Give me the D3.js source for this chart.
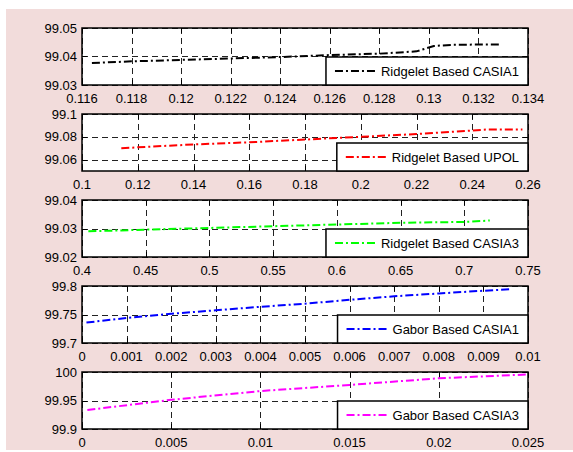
<!DOCTYPE html>
<html>
<head>
<meta charset="utf-8">
<script src="https://cdn.jsdelivr.net/npm/d3@7"></script>
<style>
  body { margin: 0; background: #fff; }
  svg text { font-family: "Liberation Sans", Arial, sans-serif; font-size: 13px; fill: #000; }
</style>
</head>
<body>
<svg id="chart" width="573" height="452"></svg>
<script>
// series
var casia1RidgeX = [0.1164, 0.118, 0.120, 0.122, 0.124, 0.126, 0.128, 0.1295, 0.1302, 0.131, 0.132, 0.1329];
var casia1RidgeY = [99.0377, 99.0383, 99.0388, 99.0393, 99.0398, 99.0405, 99.0410, 99.0418, 99.0437, 99.0441, 99.0442, 99.0442];

var upolRidgeX = [0.1141, 0.14, 0.16, 0.18, 0.20, 0.22, 0.24, 0.245, 0.258];
var upolRidgeY = [99.0700, 99.0733, 99.0752, 99.0776, 99.0800, 99.0824, 99.0855, 99.0864, 99.0864];

var casia3RidgeX = [0.405, 0.45, 0.50, 0.55, 0.60, 0.65, 0.70, 0.72];
var casia3RidgeY = [99.0290, 99.0296, 99.0302, 99.0308, 99.0314, 99.0320, 99.0323, 99.0328];

var casia1GaborX = [0.0001, 0.001, 0.002, 0.003, 0.004, 0.005, 0.006, 0.007, 0.008, 0.009, 0.0096];
var casia1GaborY = [99.7359, 99.7439, 99.7512, 99.7574, 99.7635, 99.7690, 99.7758, 99.7819, 99.7868, 99.7917, 99.7942];

var casia3GaborX = [0.0003, 0.005, 0.010, 0.015, 0.020, 0.025];
var casia3GaborY = [99.9334, 99.9512, 99.9666, 99.9773, 99.9890, 99.9957];

// axis limits and tick steps
var xLims = [[0.116, 0.134], [0.1, 0.26], [0.4, 0.75], [0, 0.01], [0, 0.025]];
var xSteps = [0.002, 0.02, 0.05, 0.001, 0.005];
var yLims = [[99.03, 99.05], [99.05, 99.1], [99.02, 99.04], [99.7, 99.8], [99.9, 100]];
var yTicks = [[99.03, 99.04, 99.05], [99.06, 99.08, 99.1], [99.02, 99.03, 99.04], [99.7, 99.75, 99.8], [99.9, 99.95, 100]];

var names = ["Ridgelet Based CASIA1", "Ridgelet Based UPOL", "Ridgelet Based CASIA3", "Gabor Based CASIA1", "Gabor Based CASIA3"];
var colors = ["#000000", "#ff0000", "#00ff00", "#0000ff", "#ff00ff"];
var xs = [casia1RidgeX, upolRidgeX, casia3RidgeX, casia1GaborX, casia3GaborX];
var ys = [casia1RidgeY, upolRidgeY, casia3RidgeY, casia1GaborY, casia3GaborY];

var svg = d3.select("#chart");
svg.append("rect").attr("x", 6).attr("y", 9).attr("width", 567).attr("height", 441).attr("fill", "#f2dcdb");

var axLeft = 82, axRight = 528, axH = 57;
var axTops = [28, 114, 200, 286, 372];
var fmt = function(v) { return String(+v.toFixed(6)); };

function drawPanel(i) {
  var y0 = axTops[i], y1 = y0 + axH;
  var x = d3.scaleLinear().domain(xLims[i]).range([axLeft, axRight]);
  var y = d3.scaleLinear().domain(yLims[i]).range([y1, y0]);
  var n = Math.round((xLims[i][1] - xLims[i][0]) / xSteps[i]);
  var xt = d3.range(n + 1).map(function(k) { return +(xLims[i][0] + k * xSteps[i]).toFixed(6); });
  var g = svg.append("g");

  g.append("rect").attr("x", axLeft).attr("y", y0).attr("width", axRight - axLeft).attr("height", axH).attr("fill", "#fff");

  // grid
  g.selectAll(".gx").data(xt).enter().append("line")
    .attr("x1", function(d) { return Math.round(x(d)) + 0.5; }).attr("x2", function(d) { return Math.round(x(d)) + 0.5; })
    .attr("y1", y0).attr("y2", y1)
    .attr("stroke", "#222").attr("stroke-dasharray", "6,4");
  g.selectAll(".gy").data(yTicks[i]).enter().append("line")
    .attr("x1", axLeft).attr("x2", axRight)
    .attr("y1", function(d) { return Math.round(y(d)) + 0.5; }).attr("y2", function(d) { return Math.round(y(d)) + 0.5; })
    .attr("stroke", "#222").attr("stroke-dasharray", "6,4");

  // inward ticks
  xt.forEach(function(d) {
    var px = Math.round(x(d)) + 0.5;
    g.append("line").attr("x1", px).attr("x2", px).attr("y1", y1).attr("y2", y1 - 5).attr("stroke", "#000");
    g.append("line").attr("x1", px).attr("x2", px).attr("y1", y0).attr("y2", y0 + 5).attr("stroke", "#000");
  });
  yTicks[i].forEach(function(d) {
    var py = Math.round(y(d)) + 0.5;
    g.append("line").attr("x1", axLeft).attr("x2", axLeft + 5).attr("y1", py).attr("y2", py).attr("stroke", "#000");
    g.append("line").attr("x1", axRight).attr("x2", axRight - 5).attr("y1", py).attr("y2", py).attr("stroke", "#000");
  });

  // data line
  var pts = xs[i].map(function(v, k) { return [v, ys[i][k]]; });
  g.append("path").datum(pts)
    .attr("d", d3.line().x(function(d) { return x(d[0]); }).y(function(d) { return y(d[1]); }))
    .attr("fill", "none").attr("stroke", colors[i]).attr("stroke-width", 2)
    .attr("stroke-dasharray", "8,3,2,3");

  // box
  g.append("rect").attr("x", axLeft).attr("y", y0).attr("width", axRight - axLeft).attr("height", axH)
    .attr("fill", "none").attr("stroke", "#000").attr("stroke-width", 1.5);

  // tick labels
  g.selectAll(".xl").data(xt).enter().append("text")
    .attr("x", function(d) { return x(d); }).attr("y", y1 + 18)
    .attr("text-anchor", "middle").text(fmt);
  g.selectAll(".yl").data(yTicks[i]).enter().append("text")
    .attr("x", axLeft - 5).attr("y", function(d) { return y(d); })
    .attr("dy", "0.35em").attr("text-anchor", "end").text(fmt);

  // legend
  var lg = g.append("g");
  var lbox = lg.append("rect").attr("fill", "#fff").attr("stroke", "#000").attr("stroke-width", 1.5);
  var txt = lg.append("text").text(names[i]);
  var tw = txt.node().getComputedTextLength();
  var bw = 9 + 40 + 6 + tw + 9, bh = 28;
  var bx = axRight - bw, by = y1 - bh;
  lbox.attr("x", bx).attr("y", by).attr("width", bw).attr("height", bh);
  lg.append("line").attr("x1", bx + 9).attr("x2", bx + 49).attr("y1", by + bh / 2).attr("y2", by + bh / 2)
    .attr("stroke", colors[i]).attr("stroke-width", 2).attr("stroke-dasharray", "8,3,2,3");
  txt.attr("x", bx + 55).attr("y", by + bh / 2).attr("dy", "0.35em");
}

for (var i = 0; i < 5; i++) drawPanel(i);
</script>
</body>
</html>
